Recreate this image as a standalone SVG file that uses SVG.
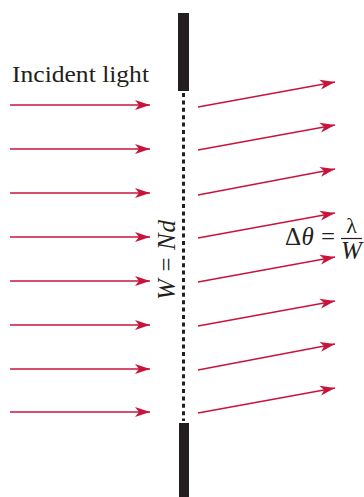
<svg xmlns="http://www.w3.org/2000/svg" width="364" height="497" viewBox="0 0 364 497">
<style>
.ray{stroke:#c8143c;stroke-width:1.5;fill:none;marker-end:url(#ah)}
.bar{fill:#231f20}
.t{font-family:"Liberation Serif","Times New Roman",serif;fill:#231f20}
.i{font-style:italic}
</style>
<defs>
<marker id="ah" markerUnits="userSpaceOnUse" markerWidth="20" markerHeight="14" viewBox="-16 -7 17 14" refX="0" refY="0" orient="auto">
<path d="M0,0 L-15,-5 L-11,0 L-15,5 Z" fill="#c8143c"/>
</marker>
</defs>
<rect width="364" height="497" fill="#ffffff"/>
<g id="slit">
<rect class="bar" x="178" y="13" width="11" height="78"/>
<rect class="bar" x="179" y="423" width="10" height="74"/>
<line x1="183.5" y1="93" x2="183.5" y2="421" stroke="#231f20" stroke-width="3" stroke-dasharray="4 3.4"/>
</g>
<g id="connectors">
<line class="ray" x1="10" y1="105" x2="150" y2="105"/>
<line class="ray" x1="10" y1="149" x2="150" y2="149"/>
<line class="ray" x1="10" y1="193" x2="150" y2="193"/>
<line class="ray" x1="10" y1="237" x2="150" y2="237"/>
<line class="ray" x1="10" y1="281" x2="150" y2="281"/>
<line class="ray" x1="10" y1="325" x2="150" y2="325"/>
<line class="ray" x1="10" y1="369" x2="150" y2="369"/>
<line class="ray" x1="10" y1="412" x2="150" y2="412"/>
<line class="ray" x1="198" y1="107" x2="335" y2="82"/>
<line class="ray" x1="198" y1="150" x2="335" y2="125"/>
<line class="ray" x1="198" y1="195" x2="335" y2="169"/>
<line class="ray" x1="198" y1="238" x2="335" y2="213"/>
<line class="ray" x1="198" y1="282" x2="335" y2="257"/>
<line class="ray" x1="198" y1="326" x2="335" y2="301"/>
<line class="ray" x1="198" y1="370" x2="335" y2="344"/>
<line class="ray" x1="198" y1="413" x2="335" y2="388"/>
</g>
<g id="label-incident">
<text class="t" x="12" y="82" font-size="23" textLength="137" lengthAdjust="spacingAndGlyphs">Incident light</text>
</g>
<g id="label-width">
<text class="t" transform="translate(175,300) rotate(-90)" font-size="25" textLength="80" lengthAdjust="spacing"><tspan class="i">W</tspan> = <tspan class="i">Nd</tspan></text>
</g>
<g id="label-angle">
<text class="t" x="285" y="245" font-size="25" textLength="50" lengthAdjust="spacing">Δ<tspan class="i">θ</tspan> =</text>
<text class="t" x="351.5" y="233" font-size="22" text-anchor="middle">λ</text>
<line x1="341" y1="238.5" x2="362" y2="238.5" stroke="#231f20" stroke-width="1.2"/>
<text class="t i" x="351.5" y="259" font-size="25" text-anchor="middle">W</text>
</g>
</svg>
